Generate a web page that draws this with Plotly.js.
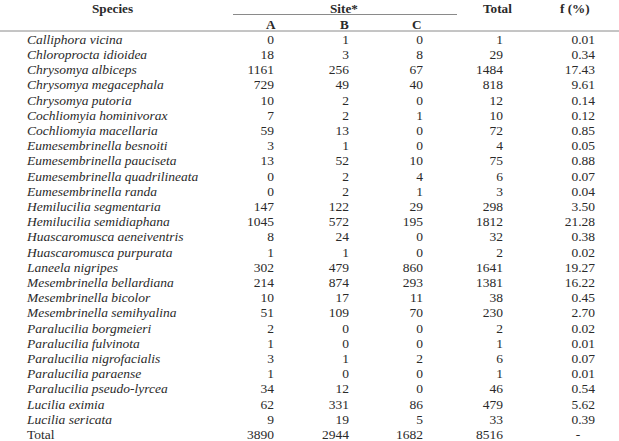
<!DOCTYPE html>
<html>
<head>
<meta charset="utf-8">
<script src="https://cdn.plot.ly/plotly-3.0.1.min.js"></script>
<style>
  html, body { margin: 0; padding: 0; background: #fff; }
  #table { width: 619px; height: 441px; }
</style>
</head>
<body>
<div id="table"></div>
<script>
/* Species counts per site, table rendered as text traces on hidden axes */

const species = [
  'Calliphora vicina', 'Chloroprocta idioidea', 'Chrysomya albiceps', 'Chrysomya megacephala',
  'Chrysomya putoria', 'Cochliomyia hominivorax', 'Cochliomyia macellaria', 'Eumesembrinella besnoiti',
  'Eumesembrinella pauciseta', 'Eumesembrinella quadrilineata', 'Eumesembrinella randa',
  'Hemilucilia segmentaria', 'Hemilucilia semidiaphana', 'Huascaromusca aeneiventris',
  'Huascaromusca purpurata', 'Laneela nigripes', 'Mesembrinella bellardiana', 'Mesembrinella bicolor',
  'Mesembrinella semihyalina', 'Paralucilia borgmeieri', 'Paralucilia fulvinota',
  'Paralucilia nigrofacialis', 'Paralucilia paraense', 'Paralucilia pseudo-lyrcea',
  'Lucilia eximia', 'Lucilia sericata'
];
const siteA = [0, 18, 1161, 729, 10, 7, 59, 3, 13, 0, 0, 147, 1045, 8, 1, 302, 214, 10, 51, 2, 1, 3, 1, 34, 62, 9];
const siteB = [1, 3, 256, 49, 2, 2, 13, 1, 52, 2, 2, 122, 572, 24, 1, 479, 874, 17, 109, 0, 0, 1, 0, 12, 331, 19];
const siteC = [0, 8, 67, 40, 0, 1, 0, 0, 10, 4, 1, 29, 195, 0, 0, 860, 293, 11, 70, 0, 0, 2, 0, 0, 86, 5];
const total = [1, 29, 1484, 818, 12, 10, 72, 4, 75, 6, 3, 298, 1812, 32, 2, 1641, 1381, 38, 230, 2, 1, 6, 1, 46, 479, 33];
const freq = ['0.01', '0.34', '17.43', '9.61', '0.14', '0.12', '0.85', '0.05', '0.88', '0.07', '0.04',
  '3.50', '21.28', '0.38', '0.02', '19.27', '16.22', '0.45', '2.70', '0.02', '0.01', '0.07', '0.01',
  '0.54', '5.62', '0.39'];
const totalRow = ['Total', 3890, 2944, 1682, 8516, '-'];
const siteLabels = ['A', 'B', 'C'];

const INK = '#2a2a2a';
const FONT = 'Liberation Serif';
const BODY_SIZE = 13.5, HEAD_SIZE = 13.2;
const ROW_PX = 15.2, FIRST_ROW_PX = 40.5, H = 441;
const pxToRow = px => (px - FIRST_ROW_PX) / ROW_PX;

// column anchors (pixels from the left)
const COL_NAME = 27;
const COL_RIGHT = [274, 349, 423, 503, 595];
const HEAD_CENTER = [271, 344, 417, 497, 575];

const nRows = species.length + 1;
const rowIdx = Array.from({ length: nRows }, (_, i) => i);

function textCol(x, texts, pos) {
  return {
    type: 'scatter', mode: 'text',
    x: rowIdx.map(() => x), y: rowIdx, text: texts,
    textposition: pos, cliponaxis: false, hoverinfo: 'skip',
    textfont: { family: FONT, size: BODY_SIZE, color: INK }
  };
}

const numCols = [siteA, siteB, siteC, total];
const traces = [
  textCol(COL_NAME, [...species.map(s => `<i>${s}</i>`), totalRow[0]], 'middle right'),
  ...numCols.map((col, k) => textCol(COL_RIGHT[k], [...col, totalRow[k + 1]].map(String), 'middle left')),
  textCol(COL_RIGHT[4], [...freq, ''], 'middle left'),
  // the "-" placeholder sits centred under the header
  {
    type: 'scatter', mode: 'text', x: [HEAD_CENTER[4] + 3], y: [nRows - 1], text: [totalRow[5]],
    textposition: 'middle center', cliponaxis: false, hoverinfo: 'skip',
    textfont: { family: FONT, size: BODY_SIZE, color: INK }
  }
];

// header text
const headTop = pxToRow(8), headSub = pxToRow(24);
const boldText = (x, y, t) => ({
  x, y, text: `<b>${t}</b>`, showarrow: false, xanchor: 'center', yanchor: 'middle',
  font: { family: FONT, size: HEAD_SIZE, color: INK }
});
const annotations = [
  boldText(112, headTop, 'Species'),
  boldText(344, headTop, 'Site*'),
  boldText(HEAD_CENTER[3], headTop, 'Total'),
  boldText(HEAD_CENTER[4], headTop, 'f (%)'),
  ...siteLabels.map((s, i) => boldText(HEAD_CENTER[i], headSub, s))
];

const rule = (x0, x1, py) => ({
  type: 'line', xref: 'x', yref: 'y', x0, x1, y0: pxToRow(py), y1: pxToRow(py),
  line: { color: '#8a8a8a', width: 1 }
});

Plotly.newPlot('table', traces, {
  width: 619, height: 441,
  margin: { l: 0, r: 0, t: 0, b: 0 },
  paper_bgcolor: '#fff', plot_bgcolor: '#fff',
  showlegend: false,
  font: { family: FONT },
  xaxis: { visible: false, range: [0, 619], fixedrange: true },
  yaxis: { visible: false, range: [pxToRow(H), pxToRow(0)], fixedrange: true },
  annotations,
  shapes: [rule(233, 457, 14.5), rule(0, 619, 31)]
}, { displayModeBar: false, staticPlot: true });
</script>
</body>
</html>
